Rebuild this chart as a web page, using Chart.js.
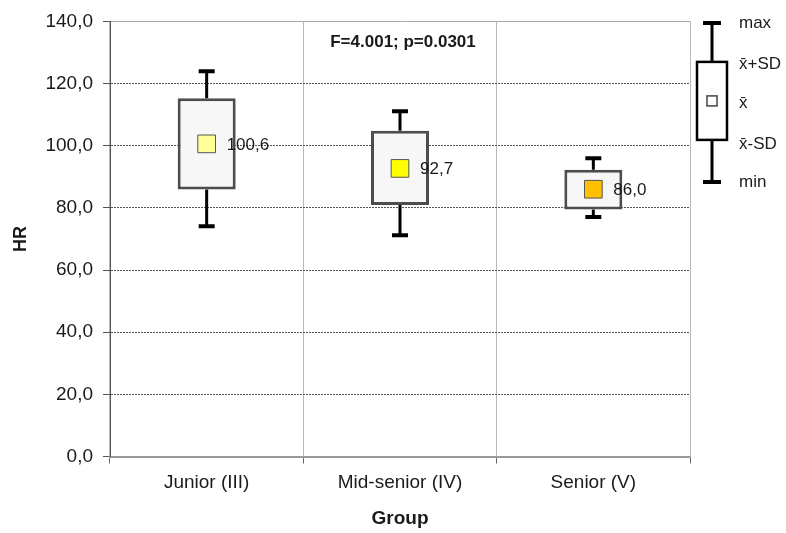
<!DOCTYPE html>
<html>
<head>
<meta charset="utf-8">
<script src="https://cdn.jsdelivr.net/npm/chart.js@4"></script>
<style>
html,body{margin:0;padding:0;background:#fff;}
#wrap{width:786px;height:533px;}
</style>
</head>
<body>
<div id="wrap"><canvas id="c" width="786" height="533"></canvas></div>
<script>
// ---- data ----
const categories = ['Junior (III)', 'Mid-senior (IV)', 'Senior (V)'];
const meanValues = [100.6, 92.7, 86.0];
const sdUpper = [115.3, 104.8, 92.3];   // mean + SD
const sdLower = [85.9, 80.9, 79.5];     // mean - SD
const maxValues = [124.0, 111.1, 96.0];
const minValues = [74.1, 71.2, 77.1];
const meanColors = ['#ffff99', '#ffff00', '#ffc000'];
const yTicks = [0, 20, 40, 60, 80, 100, 120, 140];
const annotationText = 'F=4.001; p=0.0301';
const legendLabels = ['max', 'x\u0304+SD', 'x\u0304', 'x\u0304-SD', 'min'];

const FONT = "'Liberation Sans', Arial, sans-serif";
const fmt = v => v.toFixed(1).replace('.', ',');

const whiskerPlugin = {
  id: 'whiskers',
  beforeDatasetsDraw(chart) {
    const {ctx, scales: {x, y}} = chart;
    ctx.save();
    ctx.strokeStyle = '#000';
    categories.forEach((c, i) => {
      const cx = x.getPixelForValue(i);
      const yMax = y.getPixelForValue(maxValues[i]);
      const yMin = y.getPixelForValue(minValues[i]);
      const yHi = y.getPixelForValue(sdUpper[i]);
      const yLo = y.getPixelForValue(sdLower[i]);
      ctx.lineWidth = 3;
      ctx.beginPath();
      ctx.moveTo(cx, yMax); ctx.lineTo(cx, yHi);
      ctx.moveTo(cx, yLo); ctx.lineTo(cx, yMin);
      ctx.stroke();
      ctx.lineWidth = 4;
      ctx.beginPath();
      ctx.moveTo(cx - 8, yMax); ctx.lineTo(cx + 8, yMax);
      ctx.moveTo(cx - 8, yMin); ctx.lineTo(cx + 8, yMin);
      ctx.stroke();
    });
    ctx.restore();
  },
  afterDatasetsDraw(chart) {
    const {ctx, chartArea, scales: {x, y}} = chart;
    ctx.save();
    // value labels
    ctx.font = '17px ' + FONT;
    ctx.fillStyle = '#1a1a1a';
    ctx.textAlign = 'left';
    ctx.textBaseline = 'middle';
    categories.forEach((c, i) => {
      ctx.fillText(fmt(meanValues[i]), x.getPixelForValue(i) + 20, y.getPixelForValue(meanValues[i]) + 1);
    });
    // annotation
    ctx.font = 'bold 17px ' + FONT;
    ctx.textAlign = 'center';
    ctx.fillStyle = '#1a1a1a';
    ctx.fillText(annotationText, x.getPixelForValue(1) + 3, chartArea.top + 21);
    // legend
    const lx = chartArea.right + 22;
    const t = chartArea.top;
    ctx.strokeStyle = '#000';
    ctx.lineWidth = 3;
    ctx.beginPath();
    ctx.moveTo(lx, t + 1.5); ctx.lineTo(lx, t + 40.5);
    ctx.moveTo(lx, t + 118.5); ctx.lineTo(lx, t + 160.5);
    ctx.stroke();
    ctx.lineWidth = 4;
    ctx.beginPath();
    ctx.moveTo(lx - 9, t + 1.5); ctx.lineTo(lx + 9, t + 1.5);
    ctx.moveTo(lx - 9, t + 160.5); ctx.lineTo(lx + 9, t + 160.5);
    ctx.stroke();
    ctx.lineWidth = 2.5;
    ctx.fillStyle = '#fff';
    ctx.fillRect(lx - 15, t + 40.5, 30, 78);
    ctx.strokeRect(lx - 15, t + 40.5, 30, 78);
    ctx.lineWidth = 1.5;
    ctx.strokeStyle = '#444';
    ctx.strokeRect(lx - 5, t + 74.5, 10, 10);
    ctx.font = '17px ' + FONT;
    ctx.fillStyle = '#1a1a1a';
    ctx.textAlign = 'left';
    const ly = [1.5, 42.5, 81.5, 122.5, 160.5];
    legendLabels.forEach((s, k) => ctx.fillText(s, lx + 27, t + ly[k]));
    ctx.restore();
  }
};

new Chart(document.getElementById('c'), {
  data: {
    labels: categories,
    datasets: [
      {
        type: 'bar',
        data: categories.map((c, i) => [sdLower[i], sdUpper[i]]),
        backgroundColor: '#f7f7f7',
        borderColor: '#4d4d4d',
        borderWidth: 3,
        borderSkipped: false,
        categoryPercentage: 1,
        barPercentage: 0.3,
        order: 2
      },
      {
        type: 'line',
        data: meanValues,
        showLine: false,
        pointStyle: 'rect',
        pointRadius: 12.5,
        pointHoverRadius: 12.5,
        pointBackgroundColor: meanColors,
        pointBorderColor: '#555',
        pointBorderWidth: 1,
        order: 1
      }
    ]
  },
  options: {
    responsive: false,
    animation: false,
    devicePixelRatio: 1,
    layout: {padding: {top: 20, right: 96, left: 0, bottom: 0}},
    plugins: {legend: {display: false}, tooltip: {enabled: false}},
    scales: {
      x: {
        type: 'category',
        offset: true,
        grid: {offset: true, color: '#b8b8b8', lineWidth: 1, tickColor: '#666', tickLength: 7},
        border: {color: '#9a9a9a', width: 2},
        ticks: {font: {family: FONT, size: 19}, color: '#1a1a1a', padding: 8},
        title: {display: true, text: 'Group', font: {family: FONT, size: 19, weight: 'bold'}, color: '#1a1a1a', padding: {top: 0, bottom: 3}},
        afterFit(s) { s.height = 76.5; }
      },
      y: {
        min: 0, max: 140,
        afterBuildTicks(s) { s.ticks = yTicks.map(v => ({value: v})); },
        grid: {
          color: c => c.tick && c.tick.value === 140 ? '#a8a8a8' : '#555555',
          lineWidth: 1,
          tickColor: '#555',
          tickLength: 7
        },
        border: {color: '#555555', width: 1, dash: c => c.tick && c.tick.value === 140 ? [] : [2, 1]},
        ticks: {font: {family: FONT, size: 19}, color: '#1a1a1a', padding: 10, callback: v => fmt(v)},
        title: {display: true, text: 'HR', font: {family: FONT, size: 18, weight: 'bold'}, color: '#1a1a1a', padding: {top: 10, bottom: 0}},
        afterFit(s) { s.width = 110; }
      }
    }
  },
  plugins: [whiskerPlugin]
});
</script>
</body>
</html>
